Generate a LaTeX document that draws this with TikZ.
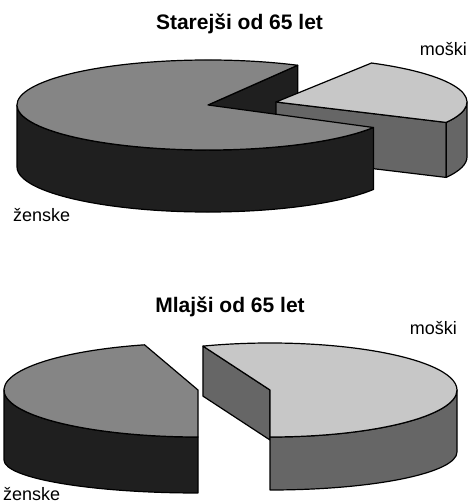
\documentclass[tikz,border=0pt]{standalone}
\usepackage{fontspec}
\setmainfont{Liberation Sans}
\begin{document}
\begin{tikzpicture}[x=1pt,y=1pt,
  face/.style={draw=black,line width=1.2pt,line join=round},
  ztop/.style={face,fill=black!48},
  zwall/.style={face,fill=black!88},
  mtop/.style={face,fill=black!22},
  mwall/.style={face,fill=black!60},
  ttl/.style={inner sep=0pt,anchor=base,font=\fontsize{21}{25}\selectfont\bfseries},
  lbl/.style={inner sep=0pt,font=\fontsize{18}{22}\selectfont}]
\useasboundingbox (0,0) rectangle (468,504);
\fill[white] (0,0) rectangle (468,504);

% ---------- upper chart ----------
\coordinate (Zc) at (208,399);
\coordinate (Mc) at (276,402);
\path (Zc) ++(62:191 and 45) coordinate (Z62);
\path (Zc) ++(180:191 and 45) coordinate (Z180);
\path (Mc) ++(-27:191 and 45) coordinate (Mr);
\coordinate (Zcb) at (208,337);
\coordinate (Mcb) at (276,347);

\draw[zwall] (Zc) -- (Z62) -- ++(0,-62) -- (Zcb) -- cycle;
\draw[mwall] (Mc) -- (Mr) -- ++(0,-55) -- (Mcb) -- cycle;
\draw[mwall] (Mr) arc[start angle=-27,end angle=0,x radius=191,y radius=45]
  -- ++(0,-55) arc[start angle=0,end angle=-27,x radius=191,y radius=45] -- cycle;
\draw[mtop] (Mc) -- (Mr) arc[start angle=-27,end angle=60,x radius=191,y radius=45] -- cycle;
\draw[zwall] (Z180) arc[start angle=180,end angle=330,x radius=191,y radius=45]
  -- ++(0,-62) arc[start angle=330,end angle=180,x radius=191,y radius=45] -- cycle;
\draw[ztop] (Zc) -- (Z62) arc[start angle=62,end angle=330,x radius=191,y radius=45] -- cycle;

% ---------- lower chart ----------
\coordinate (Zc2) at (198,114);
\coordinate (Zb2) at (198,44);
\coordinate (Mc2) at (270,114);
\coordinate (Mb2) at (270,52);
\coordinate (Mc2b) at (270,64);
\path (Zc2) ++(106:194 and 47) coordinate (Z106);
\path (Zc2) ++(180:194 and 47) coordinate (Z2l);
\path (Zb2) ++(270:194 and 33) coordinate (Z2bf);
\path (Mc2) ++(111:187 and 47) coordinate (M111);
\path (Mc2) ++(270:187 and 47) coordinate (M2f);
\path (Mb2) ++(0:187 and 38) coordinate (M2br);

\draw[zwall] (Z2l) arc[start angle=180,end angle=270,x radius=194,y radius=47]
  -- (Z2bf) arc[start angle=270,end angle=180,x radius=194,y radius=33] -- cycle;
\draw[ztop] (Zc2) -- (Z106) arc[start angle=106,end angle=270,x radius=194,y radius=47] -- cycle;

\draw[mwall] (Mc2) -- (M111) -- ++(0,-50) -- (Mc2b) -- cycle;
\draw[mwall] (M2f) arc[start angle=270,end angle=360,x radius=187,y radius=47]
  -- (M2br) arc[start angle=0,end angle=-90,x radius=187,y radius=38] -- cycle;
\draw[mtop] (Mc2) -- (M2f) arc[start angle=270,end angle=471,x radius=187,y radius=47] -- cycle;

% ---------- texts ----------
\node[ttl] (t1) at (239.5,474) {Starejši od 65 let};
\node[lbl,anchor=base east] (m1) at (467,448) {moški};
\node[lbl,anchor=base west] (z1) at (13,282) {ženske};
\node[ttl] (t2) at (230,191) {Mlajši od 65 let};
\node[lbl,anchor=base east] (m2) at (457,169) {moški};
\node[lbl,anchor=base west] (z2) at (3,4) {ženske};
\end{tikzpicture}
\end{document}
